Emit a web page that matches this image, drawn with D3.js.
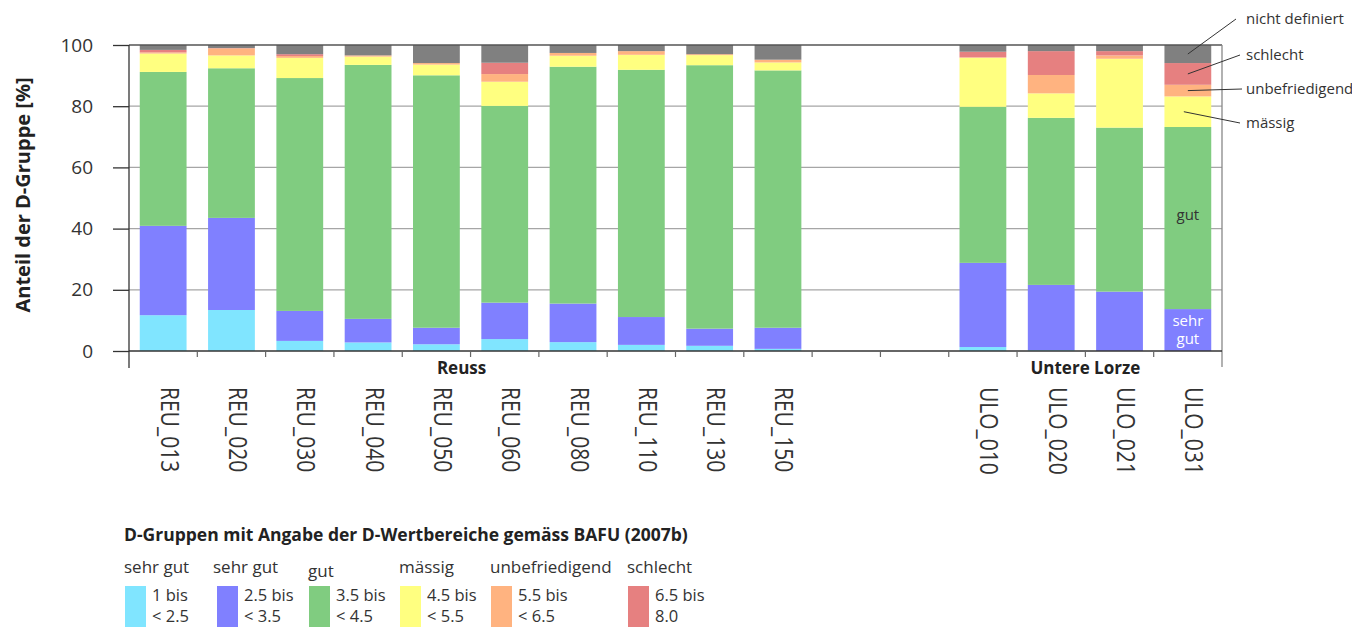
<!DOCTYPE html>
<html>
<head>
<meta charset='utf-8' />
<title>D-Gruppen Reuss / Untere Lorze</title>
<script src="https://d3js.org/d3.v7.min.js"></script>
<style>
body { margin: 0; padding: 0; background: #fff; }
svg { font-family: "Open Sans", "Noto Sans", sans-serif; }
</style>
</head>
<body>
<div id='chart'></div>
<script>

// stations ("" = empty slot between the two rivers)
var categories = ["REU_013","REU_020","REU_030","REU_040","REU_050","REU_060","REU_080","REU_110","REU_130","REU_150",
                  "", "",
                  "ULO_010","ULO_020","ULO_021","ULO_031"];

// share of each D-group in %
var sehrGut1       = [11.7, 13.4, 3.3, 2.8, 2.2, 3.9, 2.9, 2.0, 1.7, 0.7, 0, 0,  1.3,  0.3,  0.0,  0.0];
var sehrGut2       = [29.2, 30.1, 9.8, 7.7, 5.4, 11.9, 12.6, 9.1, 5.6, 6.9, 0, 0, 27.5, 21.3, 19.4, 13.7];
var gut            = [50.3, 48.9, 76.1, 83.0, 82.5, 64.3, 77.4, 80.8, 86.1, 84.1, 0, 0, 51.0, 54.6, 53.6, 59.5];
var maessig        = [6.0, 4.2, 6.6, 2.7, 3.5, 7.9, 3.6, 4.9, 3.3, 2.6, 0, 0, 16.0, 8.0, 22.5, 10.0];
var unbefriedigend = [0.4, 2.3, 0.6, 0.4, 0.5, 2.5, 0.9, 1.2, 0.3, 0.9, 0, 0, 0.2, 6.0, 1.1, 3.8];
var schlecht       = [0.8, 0.1, 0.6, 0.0, 0.0, 3.7, 0.0, 0.0, 0.0, 0.0, 0, 0, 1.8, 7.8, 1.4, 7.1];
var nichtDefiniert = [1.6, 1.0, 3.0, 3.4, 5.9, 5.8, 2.6, 2.0, 3.0, 4.8, 0, 0, 2.2, 2.0, 2.0, 5.9];

var groups = [
  {name: "Reuss", from: 0, to: 9},
  {name: "Untere Lorze", from: 12, to: 15}
];

var yTicks = [0, 20, 40, 60, 80, 100];

var keys = ["sehrGut1","sehrGut2","gut","maessig","unbefriedigend","schlecht","nichtDefiniert"];
var colors = ["#80e5ff","#8080ff","#80cc80","#ffff80","#ffb380","#e68080","#808080"];

// legend entries
var legendHead = ["sehr gut","sehr gut","gut","mässig","unbefriedigend","schlecht"];
var legendLine1 = ["1 bis","2.5 bis","3.5 bis","4.5 bis","5.5 bis","6.5 bis"];
var legendLine2 = ["< 2.5","< 3.5","< 4.5","< 5.5","< 6.5","8.0"];

// side labels pointing at the last bar
var sideLabels = [
  {key: "nichtDefiniert", text: "nicht definiert"},
  {key: "schlecht", text: "schlecht"},
  {key: "unbefriedigend", text: "unbefriedigend"},
  {key: "maessig", text: "mässig"}
];

var table = categories.map(function(c, i) {
  return {i: i, sehrGut1: sehrGut1[i], sehrGut2: sehrGut2[i], gut: gut[i], maessig: maessig[i],
          unbefriedigend: unbefriedigend[i], schlecht: schlecht[i], nichtDefiniert: nichtDefiniert[i]};
});

var W = 1352, H = 627;
var margin = {top: 45, right: 130, bottom: 276, left: 129};
var width = W - margin.left - margin.right,
    height = H - margin.top - margin.bottom;

var svg = d3.select("#chart").append("svg")
    .attr("width", W).attr("height", H);
var g = svg.append("g")
    .attr("transform", "translate(" + margin.left + "," + margin.top + ")");

var x = d3.scaleBand().domain(d3.range(categories.length)).range([0, width]).padding(0);
var y = d3.scaleLinear().domain([0, 100]).range([height, 0]);
var color = d3.scaleOrdinal().domain(keys).range(colors);

var ink = "#333";

// grid
g.selectAll(".grid").data(yTicks.filter(function(t){ return t > 0 && t < 100; }))
  .enter().append("line")
    .attr("x1", 0).attr("x2", width)
    .attr("y1", function(d){ return y(d); }).attr("y2", function(d){ return y(d); })
    .attr("stroke", "#a6a6a6").attr("stroke-width", 1.2);

// bars
var stacked = d3.stack().keys(keys)(table);
var barW = x.bandwidth() * 0.685;

g.selectAll(".layer").data(stacked).enter().append("g")
    .attr("fill", function(d){ return color(d.key); })
  .selectAll("rect").data(function(d){ return d; }).enter().append("rect")
    .attr("x", function(d){ return x(d.data.i) + (x.bandwidth() - barW) / 2; })
    .attr("width", barW)
    .attr("y", function(d){ return y(d[1]); })
    .attr("height", function(d){ return y(d[0]) - y(d[1]); });

// frame: top + right
g.append("line").attr("x1", 0).attr("x2", width).attr("y1", 0).attr("y2", 0)
  .attr("stroke", "#555").attr("stroke-width", 1.3);
g.append("line").attr("x1", width).attr("x2", width).attr("y1", 0).attr("y2", height + 16)
  .attr("stroke", "#888").attr("stroke-width", 1.3);

// y axis
var yAxis = g.append("g").call(d3.axisLeft(y).tickValues(yTicks).tickSize(16).tickPadding(20));
yAxis.select(".domain").remove();
yAxis.selectAll(".tick line").attr("stroke", ink).attr("stroke-width", 1.3);
yAxis.selectAll("text").attr("fill", ink).style("font-size", "19px")
  .style("font-family", "'Open Sans', sans-serif");
g.append("line").attr("x1", 0).attr("x2", 0).attr("y1", 0).attr("y2", height + 17)
  .attr("stroke", ink).attr("stroke-width", 1.3);

// x axis line + ticks at category borders
g.append("line").attr("x1", 0).attr("x2", width).attr("y1", height).attr("y2", height)
  .attr("stroke", ink).attr("stroke-width", 1.3);
g.selectAll(".xtick").data(d3.range(1, categories.length)).enter().append("line")
  .attr("x1", function(d){ return x(d); }).attr("x2", function(d){ return x(d); })
  .attr("y1", height).attr("y2", height + 6)
  .attr("stroke", "#666").attr("stroke-width", 1.2);

// station labels, rotated
g.selectAll(".xlab").data(categories).enter().append("text")
  .attr("transform", function(d, i){
    return "translate(" + (x(i) + x.bandwidth() / 2 - 2.5) + "," + (height + 36) + ") rotate(90) scale(1,1.25)";
  })
  .attr("fill", ink).style("font-size", "21px")
  .text(function(d){ return d; });

// group labels
g.selectAll(".grp").data(groups).enter().append("text")
  .attr("x", function(d){ return (x(d.from) + x(d.to) + x.bandwidth()) / 2 - (d.from === 0 ? 9 : 0); })
  .attr("y", height + 23)
  .attr("text-anchor", "middle").attr("fill", "#222")
  .style("font-size", "17px").style("font-weight", "bold")
  .text(function(d){ return d.name; });

// y title
svg.append("text")
  .attr("transform", "translate(30," + (margin.top + 150) + ") rotate(-90)")
  .attr("text-anchor", "middle").attr("fill", "#222")
  .style("font-size", "20px").style("font-weight", "bold")
  .text("Anteil der D-Gruppe [%]");

// labels on the last bar
var last = categories.length - 1;
var lastX = x(last) + x.bandwidth() / 2;
function mid(key) {
  var layer = stacked[keys.indexOf(key)][last];
  return y((layer[0] + layer[1]) / 2);
}
var labY = [-26, 10, 44, 78];
var lineStartX = [width + 14, width + 18, width + 20, width + 18];
sideLabels.forEach(function(s, k) {
  g.append("line")
    .attr("x1", lastX - (s.key === "maessig" ? 4 : 0)).attr("y1", mid(s.key))
    .attr("x2", lineStartX[k]).attr("y2", labY[k])
    .attr("stroke", "#333").attr("stroke-width", 1);
  g.append("text")
    .attr("x", width + 24).attr("y", labY[k]).attr("dy", "0.35em")
    .attr("fill", ink).style("font-size", "15px")
    .text(s.text);
});
g.append("text").attr("x", lastX).attr("y", mid("gut")).attr("dy", "0.1em")
  .attr("text-anchor", "middle").attr("fill", ink).style("font-size", "15px").text("gut");
var sg = g.append("text").attr("x", lastX).attr("y", mid("sehrGut2"))
  .attr("text-anchor", "middle").attr("fill", "#fff").style("font-size", "15px");
sg.append("tspan").attr("x", lastX).attr("dy", "-0.3em").text("sehr");
sg.append("tspan").attr("x", lastX).attr("dy", "1.25em").text("gut");

// legend
var leg = svg.append("g").attr("transform", "translate(124,0)");
leg.append("text").attr("x", 0).attr("y", 541)
  .attr("fill", "#222").style("font-size", "17.5px").style("font-weight", "bold")
  .text("D-Gruppen mit Angabe der D-Wertbereiche gemäss BAFU (2007b)");
var legX = [0, 92, 184, 275, 366, 503];
legendHead.forEach(function(h, i) {
  var item = leg.append("g").attr("transform", "translate(" + legX[i] + ",0)");
  item.append("text").attr("x", i === 1 ? -3 : 0).attr("y", i === 2 ? 577 : 573)
    .attr("fill", ink).style("font-size", "17px").text(h);
  item.append("rect").attr("x", 1).attr("y", 586).attr("width", 21).attr("height", 45)
    .attr("fill", colors[i]);
  item.append("text").attr("x", 28).attr("y", 601)
    .attr("fill", ink).style("font-size", "16.5px").text(legendLine1[i]);
  item.append("text").attr("x", 28).attr("y", 622)
    .attr("fill", ink).style("font-size", "16.5px").text(legendLine2[i]);
});

</script>
</body>
</html>
